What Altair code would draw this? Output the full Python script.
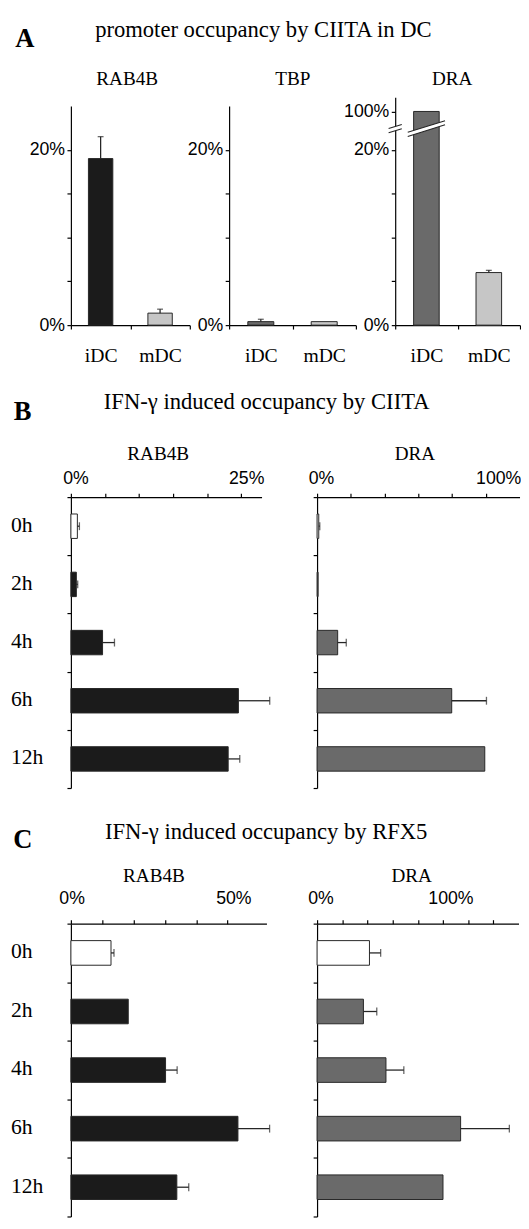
import altair as alt
import pandas as pd

SERIF = "Liberation Serif"
SANS = "Liberation Sans"
BLACK = "#1b1b1b"
GREY = "#6a6a6a"
LIGHT = "#c6c6c6"
EDGE = "#262626"

# ---------------- data ----------------
row_letters = ["A", "B", "C"]
row_titles = ["promoter occupancy by CIITA in DC",
              "IFN-\u03b3 induced occupancy by CIITA",
              "IFN-\u03b3 induced occupancy by RFX5"]

cells = ["iDC", "mDC"]
a_genes = ["RAB4B", "TBP", "DRA"]
a_rab4b = [19.0, 1.37]
a_rab4b_err = [2.5, 0.45]
a_tbp = [0.4, 0.4]
a_tbp_err = [0.27, 0.0]
a_dra = [100.0, 6.0]
a_dra_err = [0.0, 0.25]
a_ticks = [0, 5, 10, 15, 20]
a_labels = [0, 20]
a_dra_ticks = [0, 5, 10, 15, 20, 100]
a_dra_labels = [0, 20, 100]
a_max = 25
dra_break = [22.2, 98.2]   # the DRA axis of panel A is cut between these values
dra_top = 101.7

times = ["0h", "2h", "4h", "6h", "12h"]
bc_genes = ["RAB4B", "DRA"]
b_rab4b = [0.95, 0.8, 4.65, 24.6, 23.1]
b_rab4b_err = [0.3, 0.2, 1.75, 4.6, 1.7]
b_dra = [1.0, 0.6, 12.2, 79.8, 99.4]
b_dra_err = [0.6, 0.0, 5.1, 20.6, 0.0]
b_rab4b_ticks = [0, 5, 10, 15, 20, 25]
b_rab4b_labels = [0, 25]
b_rab4b_max = 28
b_dra_ticks = [0, 20, 40, 60, 80, 100]
b_dra_labels = [0, 100]
b_dra_max = 120

c_rab4b = [12.8, 18.3, 30.2, 53.3, 33.8]
c_rab4b_err = [0.95, 0.0, 3.7, 10.1, 3.8]
c_dra = [41.6, 36.8, 54.7, 114.0, 100.0]
c_dra_err = [8.9, 10.6, 14.2, 38.7, 0.0]
c_rab4b_ticks = [0, 10, 20, 30, 40, 50]
c_rab4b_labels = [0, 50]
c_rab4b_max = 62.4
c_dra_ticks = [0, 20, 40, 60, 80, 100, 120, 140]
c_dra_labels = [0, 100]
c_dra_max = 160

# break symbols (unit-square paths, scaled by mark size)
BAR_LINES = "M-1,0.2L1,-0.42M-1,0.42L1,-0.2"
BAR_FILL = "M-1,0.2L1,-0.42L1,-0.2L-1,0.42Z"
AX_LINES = "M-1,-0.01L1,-0.63M-1,0.63L1,0.01"
AX_FILL = "M-1,-0.01L1,-0.63L1,0.01L-1,0.63Z"


def txt(s, x, y, size, font=SERIF, weight="normal", align="center"):
    return alt.Chart(pd.DataFrame({"t": [s]})).mark_text(
        font=font, fontSize=size, fontWeight=weight, align=align,
        baseline="alphabetic", color="black").encode(
        x=alt.value(x), y=alt.value(y), text="t:N")


def frame(left, top, bottom):
    return alt.Chart(pd.DataFrame({"f": [0]})).mark_rule(strokeOpacity=0, opacity=0).encode(
        x=alt.value(left), y=alt.value(top), y2=alt.value(bottom))


def label_expr(vals):
    test = " || ".join(f"datum.value == {v}" for v in vals)
    return f"({test}) ? datum.value + '%' : ''"


def a_panel(gene, vals, errs, dark, width, yscale, yticks, ylabels, sub_x, extra=(), header=()):
    df = pd.DataFrame({"cell": cells, "value": vals, "err": errs})
    xenc = alt.X("cell:N", sort=cells, title=None,
                 scale=alt.Scale(type="band", paddingInner=0, paddingOuter=0),
                 axis=alt.Axis(labelAngle=0, tickBand="extent", labelFont=SERIF,
                               labelFontSize=20, labelBaseline="alphabetic",
                               labelPadding=33, tickSize=4))
    yenc = alt.Y("value:Q", scale=yscale, title=None,
                 axis=alt.Axis(values=yticks, tickCount=50, labelExpr=label_expr(ylabels),
                               labelFont=SANS, labelFontSize=18, tickSize=4,
                               labelPadding=2.5, labelOverlap=False, grid=False))
    bars = alt.Chart(df).mark_bar(width=alt.RelativeBandSize(0.41), stroke=EDGE,
                                  strokeWidth=1).encode(
        x=xenc, y=yenc,
        color=alt.condition("datum.cell == 'iDC'", alt.value(dark), alt.value(LIGHT)))
    e = alt.Chart(df).transform_filter("datum.err > 0").transform_calculate(
        hi="datum.value + datum.err")
    xs2 = alt.X("cell:N", sort=cells, title=None)
    rule = e.mark_rule(color=EDGE, strokeWidth=1.3).encode(
        x=xs2, y=alt.Y("value:Q", title=None), y2="hi:Q")
    cap = e.mark_tick(color=EDGE, thickness=1.3, size=6).encode(
        x=xs2, y=alt.Y("hi:Q", title=None))
    layers = [bars, rule, cap, *extra, txt(gene, sub_x, -12, 19.5), *header]
    return alt.layer(*layers).properties(width=width, height=232)


def dra_breaks():
    mid = (dra_break[0] + dra_break[1]) / 2
    bdf = pd.DataFrame({"cell": ["iDC"], "value": [mid]})
    bx = alt.X("cell:N", sort=cells, title=None)
    ax = alt.X("cell:N", sort=cells, title=None, bandPosition=0)
    by = alt.Y("value:Q", title=None)
    out = []
    for xenc, fill_path, line_path, size in [(bx, BAR_FILL, BAR_LINES, 1444),
                                             (ax, AX_FILL, AX_LINES, 180)]:
        out.append(alt.Chart(bdf).mark_point(shape=fill_path, size=size, filled=True,
                                             fill="white", strokeWidth=0, opacity=1)
                   .encode(x=xenc, y=by))
        out.append(alt.Chart(bdf).mark_point(shape=line_path, size=size, filled=False,
                                             stroke=EDGE, strokeWidth=1.1, opacity=1)
                   .encode(x=xenc, y=by))
    return out


def h_panel(gene, vals, errs, color, width, height, xmax, xticks, xlabels, off0, off1,
            lab_pad, show_labels, sub_x, sub_y, header=()):
    df = pd.DataFrame({"time": times, "value": vals, "err": errs})
    yenc = alt.Y("time:N", sort=times, title=None,
                 scale=alt.Scale(type="band", paddingInner=0, paddingOuter=0),
                 axis=alt.Axis(tickBand="extent", labels=show_labels, labelFont=SERIF,
                               labelFontSize=22, labelAlign="left", labelPadding=57.5,
                               labelBaseline="middle", labelOffset=-2, tickSize=4,
                               grid=False))
    xenc = alt.X("value:Q", title=None,
                 scale=alt.Scale(domain=[0, xmax], nice=False, zero=True),
                 axis=alt.Axis(orient="top", values=xticks, tickCount=50,
                               labelExpr=label_expr(xlabels),
                               labelFlush=False, labelOverlap=False,
                               labelBaseline="alphabetic", labelPadding=lab_pad,
                               labelOffset={"condition": {"test": "datum.value === 0",
                                                          "value": off0},
                                            "value": off1},
                               labelFont=SANS, labelFontSize=18, tickSize=4, grid=False))
    bars = alt.Chart(df).mark_bar(height=alt.RelativeBandSize(0.42), stroke=EDGE,
                                  strokeWidth=1).encode(
        y=yenc, x=xenc,
        color=alt.condition("datum.time == '0h'", alt.value("white"), alt.value(color)))
    e = alt.Chart(df).transform_filter("datum.err > 0").transform_calculate(
        hi="datum.value + datum.err")
    ys2 = alt.Y("time:N", sort=times, title=None)
    rule = e.mark_rule(color=EDGE, strokeWidth=1.3).encode(
        y=ys2, x=alt.X("value:Q", title=None), x2="hi:Q")
    cap = e.mark_tick(color=EDGE, thickness=1.3, size=8).encode(
        y=ys2, x=alt.X("hi:Q", title=None))
    layers = [bars, rule, cap, txt(gene, sub_x, sub_y, 19.5), *header]
    return alt.layer(*layers).properties(width=width, height=height)


# ---------------- row A ----------------
std_scale = alt.Scale(domain=[0, a_max], range=[232, 9], nice=False, zero=True)
dra_scale = alt.Scale(type="linear", domain=[0, dra_break[0], dra_break[1], dra_top],
                      range=[232, 34, 30, 0], nice=False, zero=False)

headA = [frame(-60.5, -80, 282),
         txt(row_letters[0], -56.5, -51, 27, weight="bold", align="left"),
         txt(row_titles[0], 195.8, -61, 23)]
pA1 = a_panel(a_genes[0], a_rab4b, a_rab4b_err, BLACK, 121, std_scale, a_ticks, a_labels,
              57.3, header=headA)
pA2 = a_panel(a_genes[1], a_tbp, a_tbp_err, GREY, 129, std_scale, a_ticks, a_labels, 64.9)
pA3 = a_panel(a_genes[2], a_dra, a_dra_err, GREY, 127, dra_scale, a_dra_ticks, a_dra_labels,
              58, extra=dra_breaks())
rowA = alt.hconcat(pA1, pA2, pA3, spacing=40, bounds="flush")

# ---------------- row B ----------------
headB = [frame(-63.5, -125, 305),
         txt(row_letters[1], -58.2, -78, 27, weight="bold", align="left"),
         txt(row_titles[1], 199.2, -90, 23)]
pB1 = h_panel(bc_genes[0], b_rab4b, b_rab4b_err, BLACK, 194, 296, b_rab4b_max,
              b_rab4b_ticks, b_rab4b_labels, 4.7, 5.2, 10, True, 88.8, -38, header=headB)
pB2 = h_panel(bc_genes[1], b_dra, b_dra_err, GREY, 206, 296, b_dra_max,
              b_dra_ticks, b_dra_labels, 4, 12.6, 10, False, 99.5, -38)
rowB = alt.hconcat(pB1, pB2, spacing=56.5, bounds="flush")

# ---------------- row C ----------------
headC = [frame(-63.5, -129, 290),
         txt(row_letters[2], -58.7, -77, 27, weight="bold", align="left"),
         txt(row_titles[2], 198.7, -86, 23)]
pC1 = h_panel(bc_genes[0], c_rab4b, c_rab4b_err, BLACK, 199, 298, c_rab4b_max,
              c_rab4b_ticks, c_rab4b_labels, 0.7, 5.9, 16, True, 84.5, -42, header=headC)
pC2 = h_panel(bc_genes[1], c_dra, c_dra_err, GREY, 205, 298, c_dra_max,
              c_dra_ticks, c_dra_labels, 3.4, 7.6, 16, False, 96.3, -42)
rowC = alt.hconcat(pC1, pC2, spacing=51.5, bounds="flush")

chart = alt.vconcat(rowA, rowB, rowC, spacing=0).properties(
    padding={"left": 0, "top": 0, "right": 0, "bottom": 0}
).configure_view(stroke=None).configure_axis(
    domainColor="black", tickColor="black", labelColor="black",
    domainWidth=1.2, tickWidth=1.2, grid=False
)

chart.save("out.html", embed_options={"renderer": "svg", "actions": False})
